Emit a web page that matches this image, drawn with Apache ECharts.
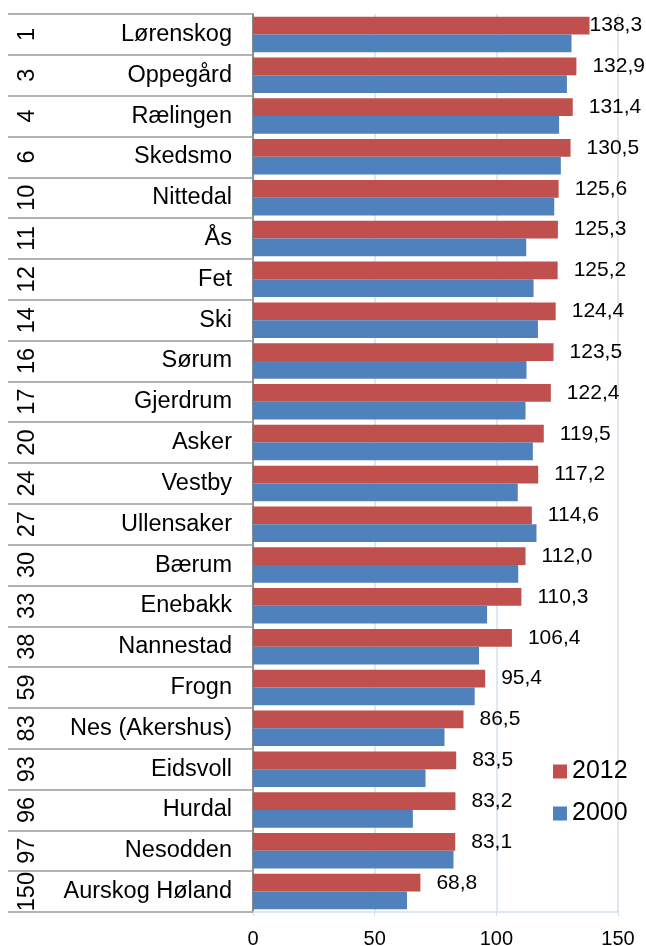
<!DOCTYPE html>
<html>
<head>
<meta charset="utf-8">
<script src="https://cdn.jsdelivr.net/npm/echarts@6/dist/echarts.min.js"></script>
<style>
html,body{margin:0;padding:0;background:#fff;}
#c{width:646px;height:946px;}
</style>
</head>
<body>
<div id="c"></div>
<script>
const names = ['Lørenskog','Oppegård','Rælingen','Skedsmo','Nittedal','Ås','Fet','Ski','Sørum','Gjerdrum','Asker','Vestby','Ullensaker','Bærum','Enebakk','Nannestad','Frogn','Nes (Akershus)','Eidsvoll','Hurdal','Nesodden','Aurskog Høland'];
const ranks = ['1','3','4','6','10','11','12','14','16','17','20','24','27','30','33','38','59','83','93','96','97','150'];
const values2012 = [138.3,132.9,131.4,130.5,125.6,125.3,125.2,124.4,123.5,122.4,119.5,117.2,114.6,112.0,110.3,106.4,95.4,86.5,83.5,83.2,83.1,68.8];
const values2000 = [130.9,129.0,125.8,126.5,123.8,112.3,115.3,117.1,112.4,112.0,115.0,108.8,116.5,109.0,96.2,92.9,91.1,78.7,70.9,65.7,82.4,63.3];
const xTicks = [0,50,100,150];

const FONT = '"Liberation Sans", Arial, sans-serif';
const chart = echarts.init(document.getElementById('c'), null, {renderer:'canvas'});

const data2012 = values2012.map((v, i) => i === 0 ? {value: v, label: {distance: 0}} : v);

chart.setOption({
  animation: false,
  textStyle: {fontFamily: FONT},
  grid: {left: 253, top: 14, right: 28, bottom: 34, containLabel: false, outerBoundsMode: 'none'},
  legend: {
    orient: 'vertical',
    left: 553, top: 759, padding: 0,
    itemWidth: 14, itemHeight: 14, itemGap: 17,
    icon: 'rect',
    textStyle: {fontSize: 25, color: '#000', fontFamily: FONT},
    data: ['2012','2000']
  },
  xAxis: {
    type: 'value',
    min: xTicks[0], max: xTicks[xTicks.length-1], interval: 50,
    axisLine: {show: true, lineStyle: {color: '#d5dfec', width: 1.5}},
    axisTick: {show: true, length: 4, lineStyle: {color: '#d5dfec'}},
    splitLine: {show: true, lineStyle: {color: '#d5dfec', width: 1.5}},
    axisLabel: {fontSize: 20, color: '#000', margin: 17, fontFamily: FONT}
  },
  yAxis: [
    {
      type: 'category', inverse: true, data: names,
      axisLine: {show: true, lineStyle: {color: '#8a8a8a', width: 2}},
      axisTick: {show: true, length: 245, lineStyle: {color: '#9a9a9a', width: 1.5}},
      axisLabel: {interval: 0, fontSize: 23.5, color: '#000', margin: 21, fontFamily: FONT}
    },
    {
      type: 'category', inverse: true, data: ranks, position: 'left', offset: 0,
      axisLine: {show: false}, axisTick: {show: false},
      axisLabel: {interval: 0, hideOverlap: false, fontSize: 23.5, color: '#000', rotate: 90, margin: 213, fontFamily: FONT}
    }
  ],
  series: [
    {
      name: '2012', type: 'bar', yAxisIndex: 0, data: data2012,
      itemStyle: {color: '#c0504d'},
      barGap: '0%', barCategoryGap: '13%',
      label: {show: true, position: 'right', distance: 16, fontSize: 21, color: '#000', fontFamily: FONT,
        formatter: p => p.value.toFixed(1).replace('.', ',')}
    },
    {
      name: '2000', type: 'bar', yAxisIndex: 0, data: values2000,
      itemStyle: {color: '#4f81bd'},
      barGap: '0%', barCategoryGap: '13%'
    }
  ]
});
</script>
</body>
</html>
